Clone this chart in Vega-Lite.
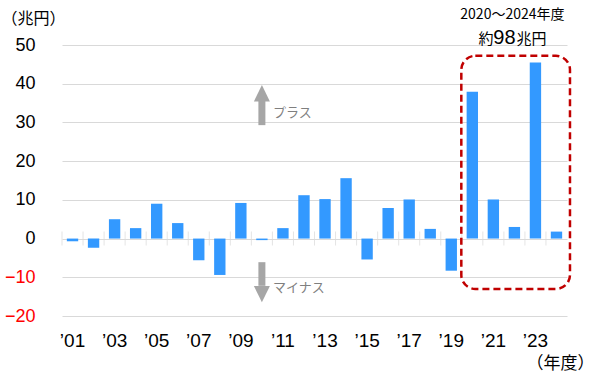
{
  "$schema": "https://vega.github.io/schema/vega-lite/v6.json",
  "width": 505,
  "height": 271,
  "autosize": "none",
  "padding": {"left": 62, "top": 45, "right": 33, "bottom": 63},
  "background": "white",
  "config": {
    "view": {"stroke": null},
    "font": "Liberation Sans",
    "axisY": {"grid": true, "gridColor": "#d9d9d9", "gridWidth": 1, "labelOverlap": false, "ticks": false, "domain": false},
    "axisX": {"grid": false, "ticks": false, "domain": false, "labelOverlap": false}
  },
  "resolve": {"axis": {"x": "independent", "y": "independent"}},
  "data": {"values": [
    {"year": "2001", "value": -0.7},
    {"year": "2002", "value": -2.4},
    {"year": "2003", "value": 5.0},
    {"year": "2004", "value": 2.7},
    {"year": "2005", "value": 9.0},
    {"year": "2006", "value": 4.0},
    {"year": "2007", "value": -5.6},
    {"year": "2008", "value": -9.4},
    {"year": "2009", "value": 9.2},
    {"year": "2010", "value": -0.4},
    {"year": "2011", "value": 2.7},
    {"year": "2012", "value": 11.2},
    {"year": "2013", "value": 10.2},
    {"year": "2014", "value": 15.6},
    {"year": "2015", "value": -5.4},
    {"year": "2016", "value": 7.9},
    {"year": "2017", "value": 10.1},
    {"year": "2018", "value": 2.5},
    {"year": "2019", "value": -8.3},
    {"year": "2020", "value": 37.9},
    {"year": "2021", "value": 10.1},
    {"year": "2022", "value": 3.0},
    {"year": "2023", "value": 45.5},
    {"year": "2024", "value": 1.8}
  ]},
  "layer": [
    {
      "mark": {"type": "bar", "color": "#3399ff", "width": {"band": 0.54}},
      "encoding": {
        "x": {"field": "year", "type": "ordinal",
          "scale": {"paddingInner": 0, "paddingOuter": 0},
          "axis": {
            "title": "（年度）", "titleFont": "Noto Sans CJK JP", "titleFontSize": 17, "titleFontWeight": "normal",
            "titleAlign": "right", "titleBaseline": "middle", "titleX": 532, "titleY": 47, "titleColor": "#000000",
            "labelExpr": "toNumber(datum.value) % 2 == 1 ? '’' + substring(datum.value, 2, 4) : ''",
            "labelAngle": 0, "labelFontSize": 19, "labelColor": "#000000", "labelPadding": 15
          }
        },
        "y": {"field": "value", "type": "quantitative",
          "scale": {"domain": [-20, 50], "nice": false, "zero": false},
          "axis": {
            "values": [-20, -10, 0, 10, 20, 30, 40, 50],
            "labelOverlap": false, "grid": true,
            "title": "（兆円）", "titleFont": "Noto Sans CJK JP", "titleFontSize": 16, "titleFontWeight": "normal",
            "titleAngle": 0, "titleAlign": "left", "titleBaseline": "middle", "titleX": -61, "titleY": -27, "titleColor": "#000000",
            "labelFontSize": 18, "labelPadding": 27,
            "labelColor": {"condition": {"test": "datum.value < 0", "value": "#ff0000"}, "value": "#000000"}
          }
        }
      }
    },
    {
      "mark": {"type": "tick", "color": "#d9d9d9", "size": 14, "thickness": 1, "orient": "vertical"},
      "encoding": {
        "x": {"field": "year", "type": "ordinal", "bandPosition": 0, "axis": null},
        "y": {"datum": 0, "axis": null}
      }
    },
    {
      "data": {"values": [{}]},
      "mark": {"type": "rect", "filled": false, "fill": null, "stroke": "#c00000", "strokeWidth": 2.5, "strokeDash": [7, 4], "cornerRadius": 14, "xOffset": -11, "x2Offset": 13.5},
      "encoding": {
        "x": {"datum": "2020", "axis": null},
        "x2": {"datum": "2024"},
        "y": {"datum": 47.2, "axis": null},
        "y2": {"datum": -13}
      }
    },
    {
      "data": {"values": [{}]},
      "mark": {"type": "rule", "color": "#a6a6a6", "strokeWidth": 7},
      "encoding": {"x": {"datum": "2010", "axis": null}, "y": {"datum": 29.3, "axis": null}, "y2": {"datum": 35.6}}
    },
    {
      "data": {"values": [{}]},
      "mark": {"type": "rule", "color": "#a6a6a6", "strokeWidth": 7},
      "encoding": {"x": {"datum": "2010", "axis": null}, "y": {"datum": -6.1, "axis": null}, "y2": {"datum": -12.2}}
    },
    {
      "data": {"values": [{}]},
      "mark": {"type": "point", "shape": "M0,-1.05L1,1L-1,1Z", "filled": true, "size": 256, "color": "#a6a6a6", "opacity": 1, "strokeWidth": 0},
      "encoding": {"x": {"datum": "2010", "axis": null}, "y": {"datum": 37.5, "axis": null}}
    },
    {
      "data": {"values": [{}]},
      "mark": {"type": "point", "shape": "M0,1.05L1,-1L-1,-1Z", "filled": true, "size": 256, "color": "#a6a6a6", "opacity": 1, "strokeWidth": 0},
      "encoding": {"x": {"datum": "2010", "axis": null}, "y": {"datum": -14.3, "axis": null}}
    },
    {
      "data": {"values": [{}]},
      "mark": {"type": "text", "text": "プラス", "font": "Noto Sans CJK JP", "fontSize": 13, "fill": "#7f7f7f", "align": "left", "baseline": "middle", "dx": 11},
      "encoding": {"x": {"datum": "2010", "axis": null}, "y": {"datum": 32.4, "axis": null}}
    },
    {
      "data": {"values": [{}]},
      "mark": {"type": "text", "text": "マイナス", "font": "Noto Sans CJK JP", "fontSize": 13, "fill": "#7f7f7f", "align": "left", "baseline": "middle", "dx": 11},
      "encoding": {"x": {"datum": "2010", "axis": null}, "y": {"datum": -12.8, "axis": null}}
    },
    {
      "data": {"values": [{}]},
      "mark": {"type": "text", "text": "2020～2024年度", "font": "Noto Sans CJK JP", "fontSize": 14, "fill": "#000000", "align": "center", "baseline": "middle", "dx": -2},
      "encoding": {"x": {"datum": "2022", "axis": null}, "y": {"datum": 57.7, "axis": null}}
    },
    {
      "data": {"values": [{}]},
      "mark": {"type": "text", "text": "約", "font": "Noto Sans CJK JP", "fontSize": 15, "fill": "#000000", "align": "right", "baseline": "alphabetic", "dx": -21},
      "encoding": {"x": {"datum": "2022", "axis": null}, "y": {"datum": 50.2, "axis": null}}
    },
    {
      "data": {"values": [{}]},
      "mark": {"type": "text", "text": "98", "font": "Liberation Sans", "fontSize": 20, "fill": "#000000", "align": "center", "baseline": "alphabetic", "dx": -10},
      "encoding": {"x": {"datum": "2022", "axis": null}, "y": {"datum": 50.2, "axis": null}}
    },
    {
      "data": {"values": [{}]},
      "mark": {"type": "text", "text": "兆円", "font": "Noto Sans CJK JP", "fontSize": 15, "fill": "#000000", "align": "left", "baseline": "alphabetic", "dx": 2},
      "encoding": {"x": {"datum": "2022", "axis": null}, "y": {"datum": 50.2, "axis": null}}
    }
  ]
}
